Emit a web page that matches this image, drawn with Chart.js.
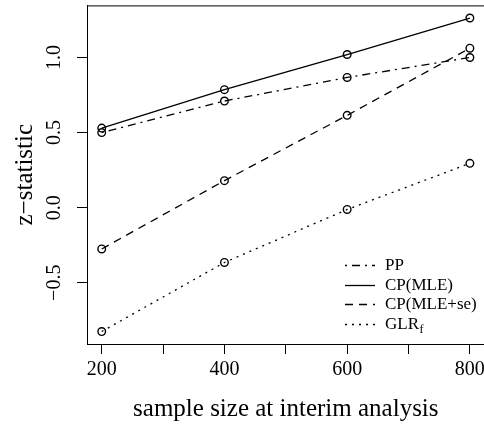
<!DOCTYPE html>
<html>
<head>
<meta charset="utf-8">
<script src="https://cdn.jsdelivr.net/npm/chart.js@4"></script>
<style>
  html, body { margin: 0; padding: 0; background: #fff; }
  #wrap { width: 484px; height: 427px; overflow: hidden; }
  canvas { display: block; }
</style>
</head>
<body>
<div id="wrap"><canvas id="zChart" width="490" height="427"></canvas></div>
<script>
// ---- data ----
const sampleSizes = [200, 400, 600, 800];
const seriesNames = ["PP", "CP(MLE)", "CP(MLE+se)", "GLR"];
const seriesSubs = ["", "", "", "f"];
const ppValues = [0.50, 0.71, 0.867, 1.00];
const cpMleValues = [0.53, 0.786, 1.02, 1.263];
const cpMleSeValues = [-0.275, 0.18, 0.615, 1.062];
const glrValues = [-0.825, -0.365, -0.012, 0.295];

const xTickValues = [200, 300, 400, 500, 600, 700, 800];
const xTickLabels = ["200", "", "400", "", "600", "", "800"];
const yTickValues = [-0.5, 0, 0.5, 1.0];
const yTickLabels = ["\u22120.5", "0.0", "0.5", "1.0"];

const SERIF = "'Liberation Serif', 'DejaVu Serif', serif";
Chart.defaults.font.family = SERIF;
Chart.defaults.color = "#000";

// R-like line types
const LTY = {
  dotdash: [2, 5, 8, 5],
  solid: [],
  dashed: [8, 6],
  dotted: [2, 5],
};

function makeSet(i, values, dash) {
  return {
    label: seriesNames[i],
    data: sampleSizes.map((x, k) => ({ x, y: values[k] })),
    borderColor: "#000",
    borderWidth: 1.3,
    borderDash: dash,
    pointStyle: "circle",
    pointRadius: 3.8,
    pointBorderWidth: 1.4,
    pointBackgroundColor: "rgba(0,0,0,0)",
    pointBorderColor: "#000",
    tension: 0,
    fill: false,
  };
}

// ---- plugin: box, rotated y labels, legend ----
const rStyle = {
  id: "rStyle",
  afterDatasetsDraw(chart) {
    const ctx = chart.ctx;
    const a = chart.chartArea;
    const yScale = chart.scales.y;

    ctx.save();
    ctx.strokeStyle = "#000";
    ctx.lineWidth = 1;
    ctx.setLineDash([]);
    ctx.strokeRect(a.left + 0.5, a.top + 0.5, a.right - a.left, a.bottom - a.top);

    // y tick labels, vertical like R
    ctx.fillStyle = "#000";
    ctx.font = "20px " + SERIF;
    ctx.textAlign = "center";
    ctx.textBaseline = "middle";
    yTickValues.forEach((v, i) => {
      ctx.save();
      ctx.translate(55, yScale.getPixelForValue(v));
      ctx.rotate(-Math.PI / 2);
      ctx.fillText(yTickLabels[i], 0, 0);
      ctx.restore();
    });

    // legend (no box)
    const lx0 = 345, lx1 = 375, tx = 385, ly0 = 265, rowH = 19.7;
    chart.data.datasets.forEach((ds, i) => {
      const y = Math.round(ly0 + i * rowH) + 0.5;
      ctx.beginPath();
      ctx.setLineDash(ds.borderDash);
      ctx.lineWidth = ds.borderWidth;
      ctx.moveTo(lx0, y);
      ctx.lineTo(lx1, y);
      ctx.stroke();
      ctx.setLineDash([]);
      ctx.textAlign = "left";
      ctx.font = "17px " + SERIF;
      ctx.fillText(ds.label, tx, y);
      if (seriesSubs[i]) {
        const w = ctx.measureText(ds.label).width;
        ctx.font = "12px " + SERIF;
        ctx.fillText(seriesSubs[i], tx + w + 0.5, y + 5);
      }
    });
    ctx.restore();
  },
};

const ctx = document.getElementById("zChart").getContext("2d");
new Chart(ctx, {
  type: "line",
  data: {
    datasets: [
      makeSet(0, ppValues, LTY.dotdash),
      makeSet(1, cpMleValues, LTY.solid),
      makeSet(2, cpMleSeValues, LTY.dashed),
      makeSet(3, glrValues, LTY.dotted),
    ],
  },
  options: {
    responsive: false,
    animation: false,
    layout: { padding: { top: 5, right: 5, left: 0, bottom: 0 } },
    plugins: { legend: { display: false }, tooltip: { enabled: false } },
    scales: {
      x: {
        type: "linear",
        min: 176,
        max: 824,
        afterFit: (s) => { s.height = 83; },
        afterBuildTicks: (s) => { s.ticks = xTickValues.map((v) => ({ value: v })); },
        ticks: {
          autoSkip: false,
          maxRotation: 0,
          padding: 4,
          font: { size: 20 },
          color: "#000",
          callback: (v) => xTickLabels[xTickValues.indexOf(v)],
        },
        grid: { drawOnChartArea: false, tickLength: 10, tickColor: "#000", tickWidth: 1 },
        border: { display: true, color: "#000" },
        title: {
          display: true,
          text: "sample size at interim analysis",
          font: { size: 25 },
          color: "#000",
          padding: { top: 0, bottom: 3 },
        },
      },
      y: {
        type: "linear",
        min: -0.908,
        max: 1.347,
        afterFit: (s) => { s.width = 87; },
        afterBuildTicks: (s) => { s.ticks = yTickValues.map((v) => ({ value: v })); },
        ticks: { display: false },
        grid: { drawOnChartArea: false, tickLength: 10, tickColor: "#000", tickWidth: 1 },
        border: { display: true, color: "#000" },
        title: {
          display: true,
          text: "z\u2212statistic",
          font: { size: 25 },
          color: "#000",
          padding: { top: 10, bottom: 0 },
        },
      },
    },
  },
  plugins: [rStyle],
});
</script>
</body>
</html>
